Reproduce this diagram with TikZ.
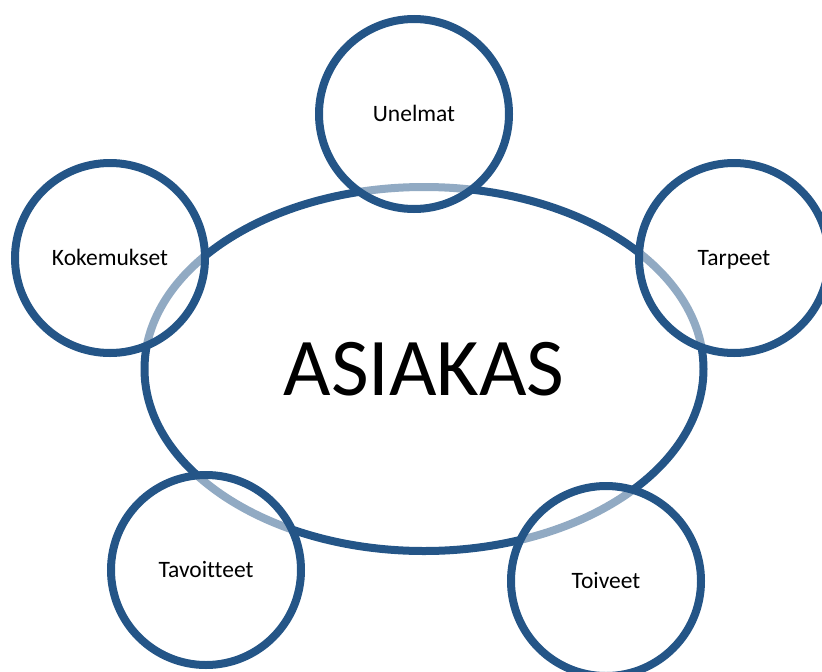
\documentclass[tikz,border=0pt]{standalone}
\usepackage{fontspec}
\setmainfont{Carlito}[Ligatures=NoCommon]
\usetikzlibrary{shapes.geometric}

\definecolor{ringblue}{RGB}{36,85,135}

\begin{document}
\begin{tikzpicture}[x=1pt,y=-1pt,
  ring/.style={draw=ringblue,line width=8pt},
  bigoval/.style={ring,ellipse,inner sep=0pt,minimum width=559pt,minimum height=364pt,
    font=\fontsize{82}{90}\selectfont},
  bubble/.style={ring,circle,inner sep=0pt,minimum size=190pt,
    text height=15pt,text depth=0pt,
    fill=white,fill opacity=0.5,text opacity=1,font=\fontsize{23.5}{28}\selectfont}]

% page size (in px):
\pgfmathsetmacro\pwidth{822};
\pgfmathsetmacro\pheight{672};

\useasboundingbox (0,0) rectangle (\pwidth,\pheight);
\clip (0,0) rectangle (\pwidth,\pheight);

% the customer in the middle
\node[bigoval] (asiakas) at (424,369) {ASIAKAS};

% bubbles round it, half see-through so the oval shows faintly
\foreach \name/\x/\y/\txt in {unelmat/414/114/Unelmat,
                              tarpeet/734/258/Tarpeet,
                              toiveet/606/581/Toiveet,
                              tavoitteet/206/570/Tavoitteet,
                              kokemukset/110/258/Kokemukset}{
  \node[bubble] (\name) at (\x,\y) {\txt};
}

\end{tikzpicture}
\end{document}
